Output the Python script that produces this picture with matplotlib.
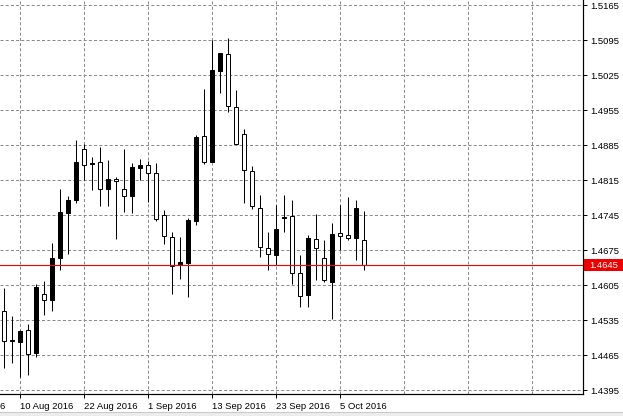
import matplotlib
matplotlib.use("Agg")
import matplotlib.pyplot as plt
import matplotlib.transforms as mtransforms
from matplotlib.patches import Rectangle

# ---------------- data (daily candles) ----------------
opens = [1.4552, 1.4493, 1.4492, 1.4515, 1.4470, 1.4588, 1.4575, 1.4660, 1.4750, 1.4775,
         1.4878, 1.4848, 1.4850, 1.4797, 1.4818, 1.4798, 1.4784, 1.4840, 1.4845, 1.4830,
         1.4746, 1.4702, 1.4645, 1.4650, 1.4734, 1.4903, 1.4852, 1.5034, 1.5067, 1.4962,
         1.4908, 1.4834, 1.4760, 1.4680, 1.4665, 1.4740, 1.4743, 1.4630, 1.4585, 1.4698,
         1.4660, 1.4612, 1.4710, 1.4705, 1.4700, 1.4696]
highs = [1.4600, 1.4543, 1.4516, 1.4528, 1.4608, 1.4613, 1.4690, 1.4798, 1.4783, 1.4895,
         1.4888, 1.4861, 1.4882, 1.4856, 1.4822, 1.4877, 1.4850, 1.4858, 1.4853, 1.4850,
         1.4756, 1.4712, 1.4702, 1.4739, 1.4905, 1.4998, 1.5095, 1.5070, 1.5100, 1.4996,
         1.4918, 1.4843, 1.4785, 1.4712, 1.4765, 1.4785, 1.4776, 1.4665, 1.4705, 1.4748,
         1.4695, 1.4730, 1.4765, 1.4782, 1.4775, 1.4753]
lows = [1.4440, 1.4450, 1.4422, 1.4425, 1.4462, 1.4545, 1.4554, 1.4635, 1.4668, 1.4770,
        1.4815, 1.4795, 1.4763, 1.4763, 1.4698, 1.4752, 1.4750, 1.4815, 1.4772, 1.4734,
        1.4688, 1.4588, 1.4618, 1.4582, 1.4725, 1.4847, 1.4852, 1.4990, 1.4952, 1.4888,
        1.4770, 1.4758, 1.4662, 1.4635, 1.4645, 1.4712, 1.4608, 1.4562, 1.4562, 1.4615,
        1.4612, 1.4538, 1.4675, 1.4695, 1.4655, 1.4636]
closes = [1.4494, 1.4495, 1.4513, 1.4468, 1.4602, 1.4576, 1.4660, 1.4752, 1.4776, 1.4850,
          1.4846, 1.4849, 1.4798, 1.4818, 1.4814, 1.4784, 1.4841, 1.4845, 1.4830, 1.4738,
          1.4704, 1.4643, 1.4652, 1.4736, 1.4902, 1.4852, 1.5036, 1.5069, 1.4964, 1.4888,
          1.4836, 1.4763, 1.4682, 1.4668, 1.4718, 1.4741, 1.4630, 1.4584, 1.4700, 1.4680,
          1.4615, 1.4707, 1.4704, 1.4700, 1.4760, 1.4645]

price_ticks = [1.4395, 1.4465, 1.4535, 1.4605, 1.4675, 1.4745, 1.4815,
               1.4885, 1.4955, 1.5025, 1.5095, 1.5165]
date_labels = ["29 Jul 2016", "10 Aug 2016", "22 Aug 2016", "1 Sep 2016",
               "13 Sep 2016", "23 Sep 2016", "5 Oct 2016"]
date_label_pos = [-6, 2, 10, 18, 26, 34, 42]
current_price = 1.4645

# ---------------- figure ----------------
W, H = 623, 416
fig = plt.figure(figsize=(W / 100, H / 100), dpi=100)
fig.patch.set_facecolor("white")
ax = fig.add_axes([0, (H - 394) / H, 583 / W, 394 / H])
ax.set_facecolor("white")

FONT = "Liberation Sans"
FS = 6.8
px = 0.72  # one pixel in points

ax.set_xlim(-0.5, 72.375)
ax.set_ylim(1.4387, 1.5175)

# grid
grid_kw = dict(color="#8a8a8a", lw=px, linestyle=(0, (3.0, 2.2)), zorder=0)
for p in price_ticks:
    ax.axhline(p, **grid_kw)
for gx in range(2, 72, 8):
    ax.axvline(gx, **grid_kw)

# candles
xs = list(range(len(opens)))
ax.vlines(xs, lows, highs, color="black", lw=px, zorder=2)
for x, o, c in zip(xs, opens, closes):
    bull = c >= o
    bottom = min(o, c)
    height = abs(c - o)
    ax.add_patch(Rectangle((x - 0.28, bottom), 0.56, height,
                           facecolor="black" if bull else "white",
                           edgecolor="black", lw=px, zorder=3))

# current price line
ax.axhline(current_price, color="#d81010", lw=0.85, zorder=4)

# spines
for s in ("left", "top"):
    ax.spines[s].set_visible(False)
for s in ("right", "bottom"):
    ax.spines[s].set_linewidth(px * 1.2)
    ax.spines[s].set_color("black")

# y axis on the right
ax.yaxis.tick_right()
ax.set_yticks(price_ticks)
ax.set_yticklabels([f"{p:.4f}" for p in price_ticks], fontsize=FS, family=FONT)
ax.tick_params(axis="y", direction="out", length=3, width=px, pad=2, colors="black")

# x axis
vis = [(p, l) for p, l in zip(date_label_pos, date_labels) if p >= 0]
ax.set_xticks([p for p, _ in vis])
ax.set_xticklabels([l for _, l in vis], fontsize=FS, family=FONT, ha="left")
ax.tick_params(axis="x", direction="out", length=3, width=px, pad=3, colors="black")
# label that is cut by the left edge (as in the original)
trans = mtransforms.blended_transform_factory(ax.transData, ax.transAxes)
t = ax.text(date_label_pos[0], 0, date_labels[0], transform=trans, fontsize=FS,
            family=FONT, ha="left", va="top", clip_on=False)
t.set_transform(trans + mtransforms.ScaledTranslation(0, -6 / 72, fig.dpi_scale_trans))

# current price label box
ptrans = mtransforms.blended_transform_factory(ax.transAxes, ax.transData)
ax.add_patch(Rectangle((1.002, current_price - 0.0012), 0.07, 0.0024, transform=ptrans,
                       facecolor="#ee0000", edgecolor="none", clip_on=False, zorder=5))
ax.text(1.010, current_price, "1.4645", transform=ptrans, fontsize=FS, family=FONT,
        color="white", ha="left", va="center", clip_on=False, zorder=6)

# window bottom strip
fig.patches.append(Rectangle((0, 0), 1, 4 / H, transform=fig.transFigure,
                             facecolor="#ececec", edgecolor="none"))
fig.lines.append(plt.Line2D([0, 1], [4 / H, 4 / H], transform=fig.transFigure,
                            color="#c8c8c8", lw=px))

fig.savefig("out.png", dpi=100)
